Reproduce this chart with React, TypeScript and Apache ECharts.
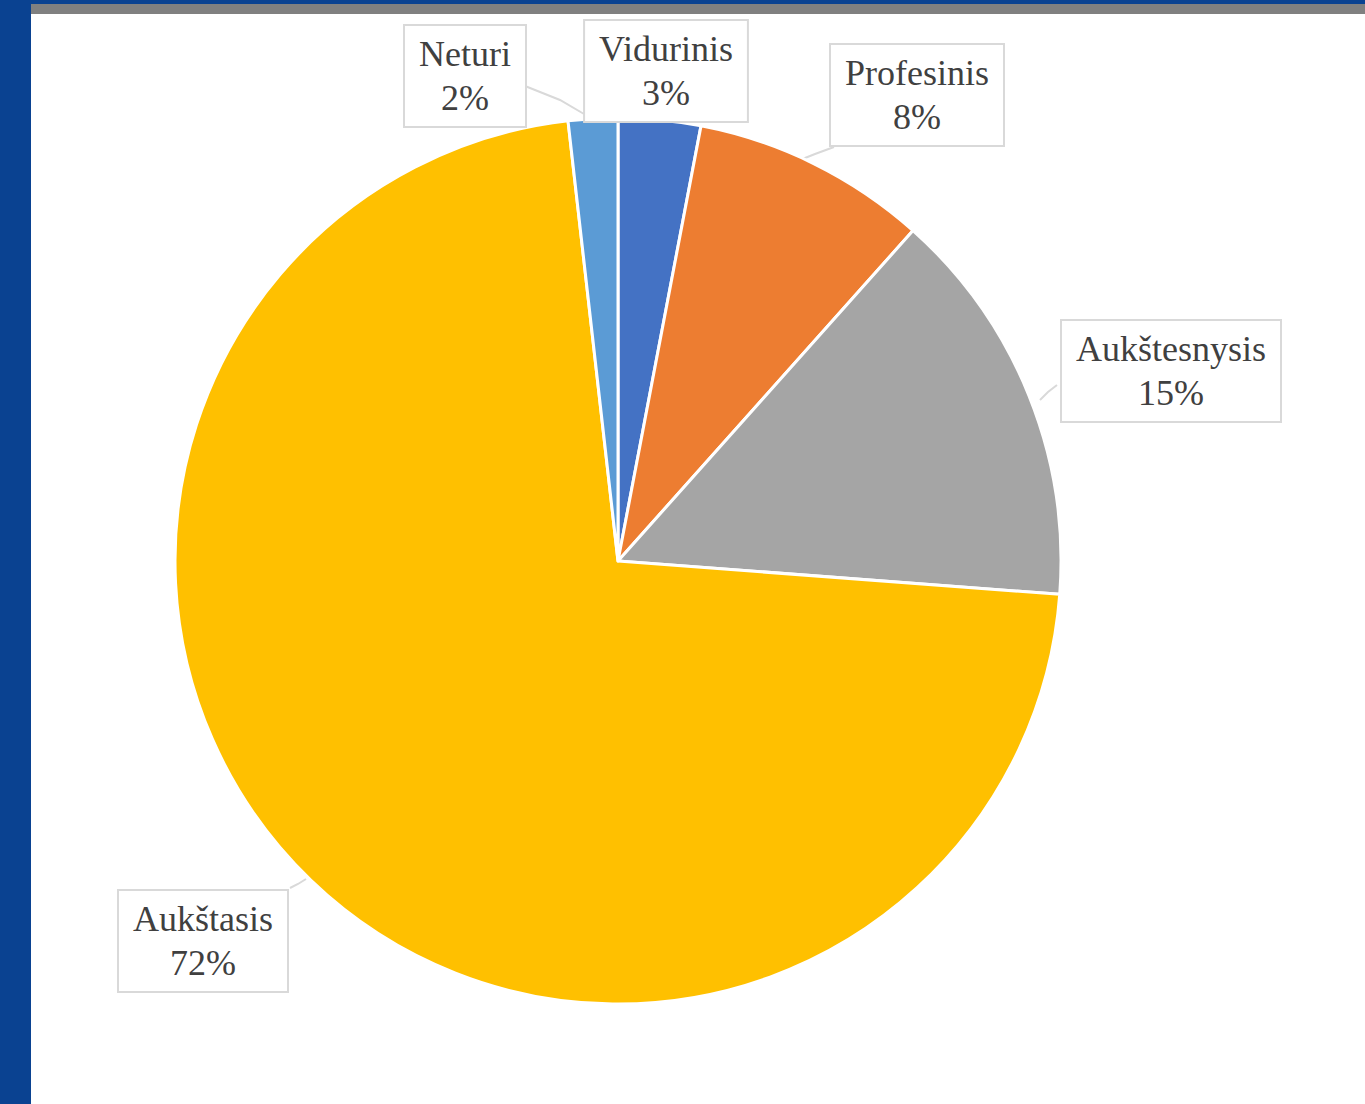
import React, { useEffect, useRef } from "react";
import * as echarts from "echarts";

const categories = ["Vidurinis", "Profesinis", "Aukštesnysis", "Aukštasis", "Neturi"];
const values = [3, 8.6, 14.6, 72, 1.8];
const percentLabels = ["3%", "8%", "15%", "72%", "2%"];
const colors = ["#4472C4", "#ED7D31", "#A5A5A5", "#FFC000", "#5B9BD5"];

// label box centres and leader lines (layout only)
const labelCenters: [number, number][] = [
  [666, 71],
  [917, 95],
  [1171, 371],
  [203, 941],
  [465, 76],
];
const leaderLines: ([number, number][] | null)[] = [
  null,
  [[800, 160], [815, 154], [834, 147]],
  [[1040, 400], [1048, 392], [1057, 385]],
  [[306, 879], [298, 884], [290, 888]],
  [[584, 114], [560, 100], [525, 86]],
];

export default function App() {
  const ref = useRef<HTMLDivElement>(null);
  useEffect(() => {
    document.body.style.margin = "0";
    const chart = echarts.init(ref.current!, null, { renderer: "svg" });
    chart.setOption({
      animation: false,
      backgroundColor: "#ffffff",
      graphic: [
        { type: "rect", shape: { x: 0, y: 0, width: 1365, height: 4 }, style: { fill: "#0A4291" } },
        { type: "rect", shape: { x: 0, y: 0, width: 31, height: 1104 }, style: { fill: "#0A4291" } },
        { type: "rect", shape: { x: 31, y: 4, width: 1334, height: 10 }, style: { fill: "#808080" } },
      ],
      series: [
        {
          type: "pie",
          center: [618, 561],
          radius: 443,
          startAngle: 90,
          clockwise: true,
          itemStyle: { borderColor: "#ffffff", borderWidth: 3 },
          label: {
            show: true,
            position: "outside",
            fontFamily: "Liberation Serif",
            fontSize: 36,
            lineHeight: 44,
            color: "#404040",
            backgroundColor: "#ffffff",
            borderColor: "#d9d9d9",
            borderWidth: 2,
            padding: [6, 14],
            align: "center",
          },
          labelLine: { show: true, lineStyle: { color: "#d9d9d9", width: 2 } },
          labelLayout: (params: any) => {
            const i = params.dataIndex;
            const res: any = {
              x: labelCenters[i][0],
              y: labelCenters[i][1],
              align: "center",
              verticalAlign: "middle",
            };
            if (leaderLines[i]) res.labelLinePoints = leaderLines[i];
            return res;
          },
          data: categories.map((name, i) => ({
            name,
            value: values[i],
            itemStyle: { color: colors[i] },
            label: { formatter: name + "\n" + percentLabels[i] },
            labelLine: { show: leaderLines[i] !== null },
          })),
        },
      ],
    });
    return () => chart.dispose();
  }, []);
  return <div ref={ref} style={{ width: 1365, height: 1104 }} />;
}
